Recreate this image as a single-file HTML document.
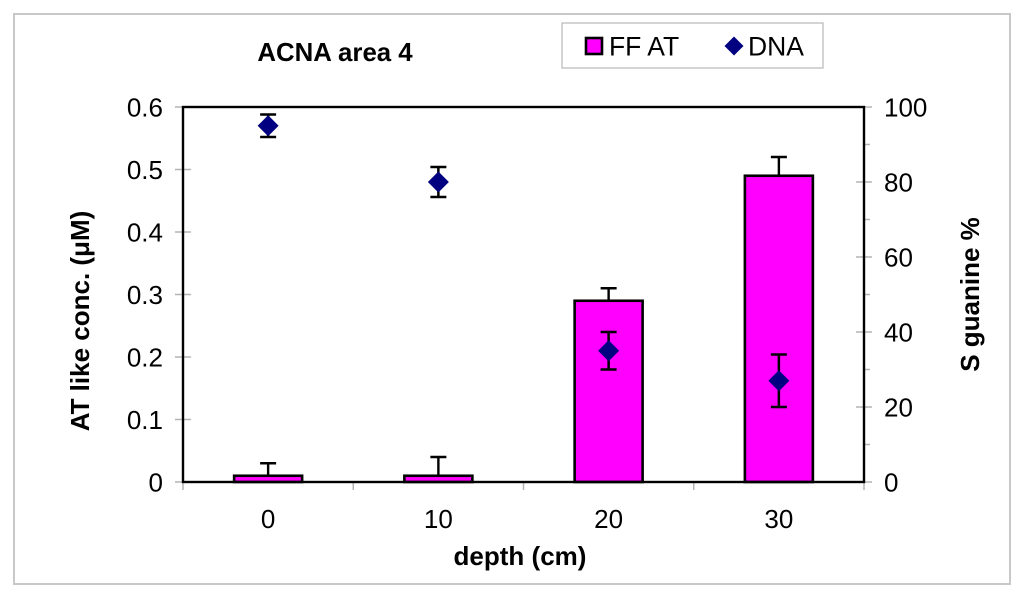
<!DOCTYPE html>
<html>
<head>
<meta charset="utf-8">
<title>ACNA area 4</title>
<style>
html,body{margin:0;padding:0;background:#fff;}
svg{display:block;font-family:"Liberation Sans",sans-serif;}
</style>
</head>
<body>
<svg id="chart" width="1024" height="598" viewBox="0 0 1024 598" xmlns="http://www.w3.org/2000/svg"></svg>
<script>
const categories = ['0', '10', '20', '30'];
const barValues = [0.01, 0.01, 0.29, 0.49];
const barErrorTop = [0.03, 0.04, 0.31, 0.52];
const dnaValues = [95, 80, 35, 27];
const dnaErrorHigh = [98, 84, 40, 34];
const dnaErrorLow = [92, 76, 30, 20];
const leftTicks = [0, 0.1, 0.2, 0.3, 0.4, 0.5, 0.6];
const rightTicks = [0, 20, 40, 60, 80, 100];
const rightMinorTicks = [10, 30, 50, 70, 90];

const svg = document.getElementById('chart');
const NS = 'http://www.w3.org/2000/svg';
const plotL = 183, plotR = 864, plotT = 107, plotB = 482;
const yLeft = v => plotB - (v / 0.6) * (plotB - plotT);
const yRight = v => plotB - (v / 100) * (plotB - plotT);
const band = (plotR - plotL) / categories.length;
const xCat = i => plotL + band * (i + 0.5);

function mk(tag, attrs, parent) {
  const el = document.createElementNS(NS, tag);
  for (const k in attrs) el.setAttribute(k, attrs[k]);
  (parent || svg).appendChild(el);
  return el;
}
function line(x1, y1, x2, y2, stroke, w, parent) {
  return mk('line', {x1, y1, x2, y2, stroke, 'stroke-width': w}, parent);
}
function label(str, x, y, anchor, size, weight, parent) {
  const t = mk('text', {x, y, 'text-anchor': anchor, 'font-size': size, 'font-weight': weight, fill: '#000'}, parent);
  t.textContent = str;
  return t;
}

const frame = mk('rect', {x: 14, y: 14, width: 996, height: 570, fill: '#fff', stroke: '#c8c8c8', 'stroke-width': 2});



const title = label('ACNA area 4', 335, 61, 'middle', 25.8, 'bold');



/* tick marks */
const gridGroup = mk('g', {});


leftTicks.forEach(v => line(175, yLeft(v), 191, yLeft(v), '#b4b4b4', 1.5, gridGroup));
rightTicks.forEach(v => line(856, yRight(v), 872, yRight(v), '#b4b4b4', 1.5, gridGroup));
rightMinorTicks.forEach(v => line(864, yRight(v), 870, yRight(v), '#b4b4b4', 1.5, gridGroup));
for (let i = 0; i <= categories.length; i++) {
  line(plotL + band * i, plotB, plotL + band * i, 490, '#b4b4b4', 1.5, gridGroup);
}

/* bars */
categories.forEach((c, i) => {
  const x = xCat(i);
  const cap = mk('g', {});
  
  
  line(x, yLeft(barErrorTop[i]), x, yLeft(barValues[i]), '#000', 2.4, cap);
  line(x - 8, yLeft(barErrorTop[i]), x + 8, yLeft(barErrorTop[i]), '#000', 2.4, cap);
  const b = mk('rect', {
    x: x - 34, y: yLeft(barValues[i]), width: 68,
    height: plotB - yLeft(barValues[i]),
    fill: '#ff00ff', stroke: '#000', 'stroke-width': 2.6
  });
  
  
});

/* axes box */
const box = mk('rect', {x: plotL, y: plotT, width: plotR - plotL, height: plotB - plotT, fill: 'none', stroke: '#000', 'stroke-width': 2.4});



/* DNA series */
categories.forEach((c, i) => {
  const x = xCat(i);
  const g = mk('g', {});
  
  
  const hi = yRight(dnaErrorHigh[i]), lo = yRight(dnaErrorLow[i]), y = yRight(dnaValues[i]);
  line(x, hi, x, lo, '#000', 2.5, g);
  line(x - 8, hi, x + 8, hi, '#000', 2.5, g);
  line(x - 8, lo, x + 8, lo, '#000', 2.5, g);
  mk('polygon', {points: `${x - 10.5},${y} ${x},${y - 10.5} ${x + 10.5},${y} ${x},${y + 10.5}`, fill: '#000080'}, g);
});

/* tick labels */
leftTicks.forEach(v => {
  const t = label(String(v), 163, yLeft(v) + 9.5, 'end', 26, 'normal');
  
  
});
rightTicks.forEach(v => {
  const t = label(String(v), 884, yRight(v) + 9.5, 'start', 26, 'normal');
  
  
});
categories.forEach((c, i) => {
  const t = label(c, xCat(i), 528, 'middle', 26, 'normal');
  
  
});

const xTitle = label('depth (cm)', 520, 565, 'middle', 26, 'bold');



const yl = label('AT like conc. (\u03BCM)', 0, 0, 'middle', 26, 'bold');
yl.setAttribute('transform', 'translate(89 321) rotate(-90)');



const yr = label('S guanine %', 0, 0, 'middle', 26, 'bold');
yr.setAttribute('transform', 'translate(979 294.5) rotate(-90)');



/* legend */
const legend = mk('g', {});


mk('rect', {x: 562, y: 23, width: 261, height: 45, fill: '#fff', stroke: '#b8b8b8', 'stroke-width': 1.2}, legend);
const swatch = mk('rect', {x: 586, y: 38, width: 16, height: 16, fill: '#ff00ff', stroke: '#000', 'stroke-width': 2.6}, legend);


const lt1 = label('FF AT', 609, 55.5, 'start', 26.5, 'normal', legend);


const marker = mk('polygon', {points: '724.5,46 734,36.5 743.5,46 734,55.5', fill: '#000080'}, legend);


const lt2 = label('DNA', 748, 55.5, 'start', 26.5, 'normal', legend);


</script>
</body>
</html>
